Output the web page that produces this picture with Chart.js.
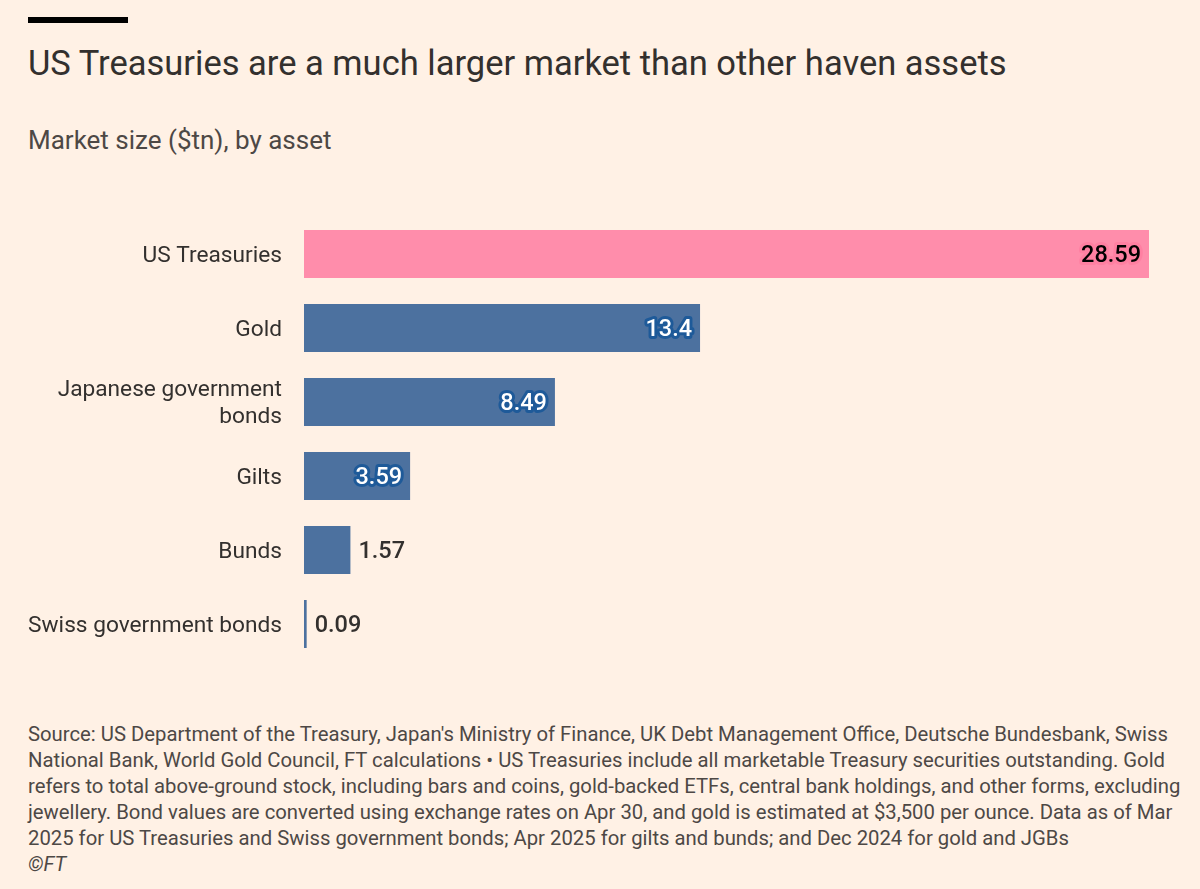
<!DOCTYPE html>
<html>
<head>
<meta charset="utf-8">
<script src="https://cdn.jsdelivr.net/npm/chart.js@4"></script>
<style>
  html, body { margin:0; padding:0; background:#fff1e5; }
  body { width:1200px; height:889px; position:relative; overflow:hidden; font-family: Roboto, "Noto Sans", sans-serif; color:#33302e; }
  #topbar { position:absolute; left:28px; top:17px; width:100px; height:6px; background:#000; }
  #title { position:absolute; left:28px; top:42px; font-size:34.5px; line-height:42px; white-space:nowrap; color:#33302e; }
  #subtitle { position:absolute; left:28px; top:124px; font-size:26px; line-height:32px; white-space:nowrap; color:#4d4845; }
  #chartbox { position:absolute; left:0; top:180px; width:1200px; height:520px; }
  #foot { position:absolute; left:28px; top:721px; font-size:20.3px; line-height:26px; white-space:nowrap; color:#4d4845; }
  #foot i { font-style:italic; }
</style>
</head>
<body>
<div id="topbar"></div>
<div id="title">US Treasuries are a much larger market than other haven assets</div>
<div id="subtitle">Market size ($tn), by asset</div>
<div id="chartbox"><canvas id="c"></canvas></div>
<div id="foot">Source: US Department of the Treasury, Japan's Ministry of Finance, UK Debt Management Office, Deutsche Bundesbank, Swiss<br>National Bank, World Gold Council, FT calculations • US Treasuries include all marketable Treasury securities outstanding. Gold<br>refers to total above-ground stock, including bars and coins, gold-backed ETFs, central bank holdings, and other forms, excluding<br>jewellery. Bond values are converted using exchange rates on Apr 30, and gold is estimated at $3,500 per ounce. Data as of Mar<br>2025 for US Treasuries and Swiss government bonds; Apr 2025 for gilts and bunds; and Dec 2024 for gold and JGBs<br><i>©FT</i></div>
<script>
const assets = ["US Treasuries", "Gold", ["Japanese government", "bonds"], "Gilts", "Bunds", "Swiss government bonds"];
const marketSize = [28.59, 13.4, 8.49, 3.59, 1.57, 0.09];
const valueLabels = ["28.59", "13.4", "8.49", "3.59", "1.57", "0.09"];

const PINK = '#ff8dab';
const BLUE = '#4c719f';
const barColors = marketSize.map((v, i) => i === 0 ? PINK : BLUE);

const valuePlugin = {
  id: 'valueLabels',
  afterDatasetsDraw(chart) {
    const ctx = chart.ctx;
    const meta = chart.getDatasetMeta(0);
    ctx.save();
    ctx.font = '500 23.5px Roboto, "Noto Sans", sans-serif';
    ctx.textBaseline = 'middle';
    ctx.lineJoin = 'round';
    meta.data.forEach((bar, i) => {
      const txt = valueLabels[i];
      const w = ctx.measureText(txt).width;
      const barW = bar.x - bar.base;
      const y = bar.y + 2;
      if (barW > w + 20) {
        ctx.textAlign = 'right';
        const x = bar.x - 8;
        ctx.lineWidth = 6;
        ctx.strokeStyle = i === 0 ? '#ff80a2' : '#1e5a99';
        ctx.strokeText(txt, x, y);
        ctx.fillStyle = i === 0 ? '#000000' : '#ffffff';
        ctx.fillText(txt, x, y);
      } else {
        ctx.textAlign = 'left';
        ctx.fillStyle = '#33302e';
        ctx.fillText(txt, bar.x + 8, y);
      }
    });
    ctx.restore();
  }
};

new Chart(document.getElementById('c'), {
  type: 'bar',
  data: {
    labels: assets,
    datasets: [{
      data: marketSize,
      backgroundColor: barColors,
      borderWidth: 0,
      barPercentage: 1,
      categoryPercentage: 48 / 74
    }]
  },
  options: {
    indexAxis: 'y',
    responsive: true,
    maintainAspectRatio: false,
    animation: false,
    layout: { padding: { left: 0, right: 51, top: 37, bottom: 39 } },
    plugins: { legend: { display: false }, tooltip: { enabled: false } },
    scales: {
      x: { display: false, min: 0, max: 28.59 },
      y: {
        grid: { display: false, drawTicks: false },
        border: { display: false },
        afterFit(scale) { scale.width = 304; },
        ticks: {
          padding: 22,
          labelOffset: 2,
          color: '#33302e',
          font: { family: 'Roboto, "Noto Sans", sans-serif', size: 22.7, lineHeight: 1.2 }
        }
      }
    }
  },
  plugins: [valuePlugin]
});
</script>
</body>
</html>
